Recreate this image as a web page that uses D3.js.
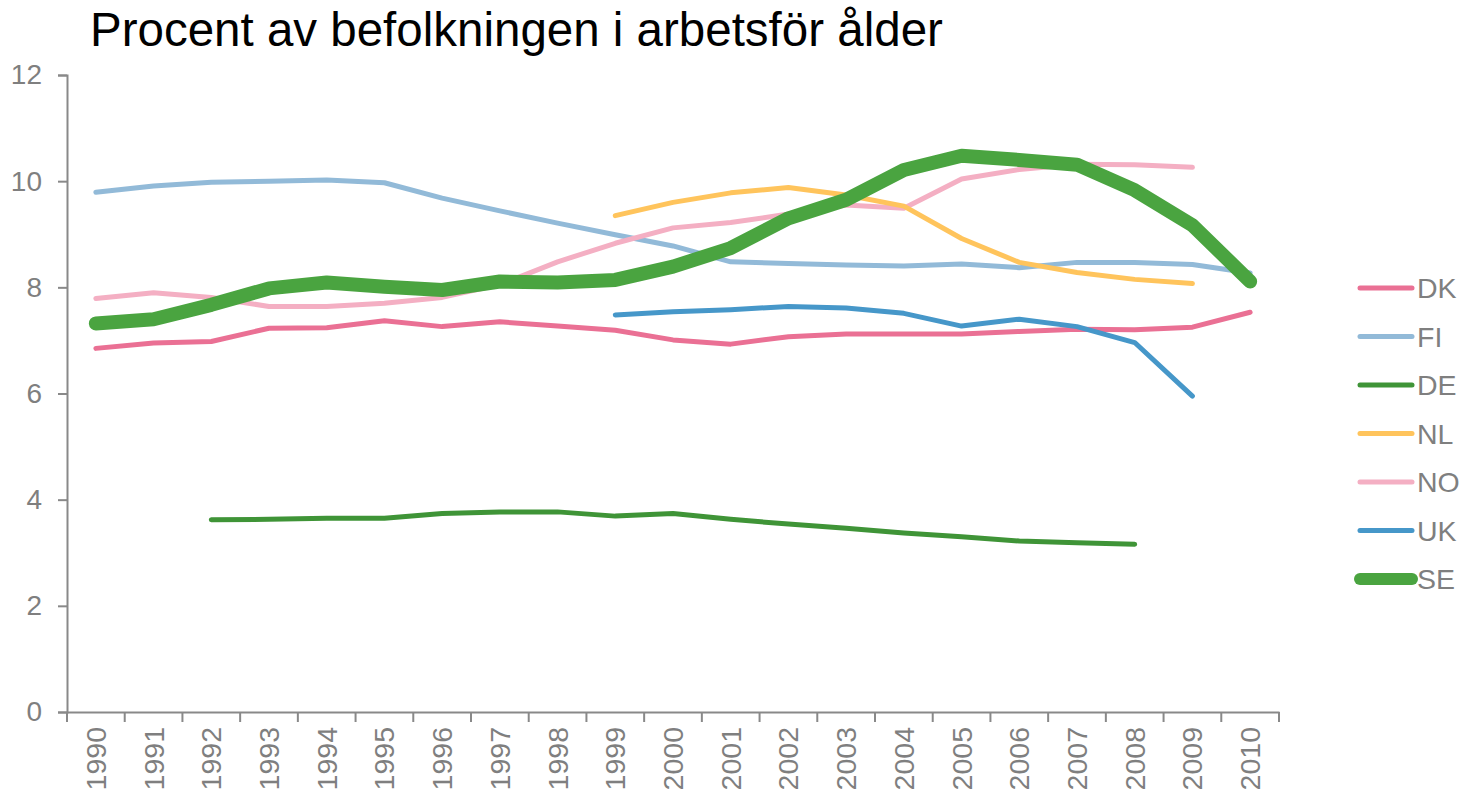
<!DOCTYPE html>
<html>
<head>
<meta charset="utf-8">
<script src="https://cdn.jsdelivr.net/npm/d3@7"></script>
<style>
  html, body { margin: 0; padding: 0; background: #fff; }
  svg { display: block; font-family: "Liberation Sans", Arial, sans-serif; }
</style>
</head>
<body>
<svg id="chart" width="1464" height="796"></svg>
<script>
const title = "Procent av befolkningen i arbetsför ålder";
const years = ["1990","1991","1992","1993","1994","1995","1996","1997","1998","1999","2000",
               "2001","2002","2003","2004","2005","2006","2007","2008","2009","2010"];
const yTicks = [0, 2, 4, 6, 8, 10, 12];

const DK = [6.85, 6.95, 6.98, 7.23, 7.24, 7.37, 7.26, 7.35, 7.27, 7.19, 7.01, 6.93, 7.07, 7.12, 7.12, 7.12, 7.17, 7.21, 7.20, 7.25, 7.53];
const FI = [9.79, 9.91, 9.98, 10.00, 10.02, 9.97, 9.68, 9.44, 9.21, 8.99, 8.78, 8.48, 8.45, 8.42, 8.40, 8.44, 8.37, 8.47, 8.47, 8.43, 8.27];
const DE = [null, null, 3.62, 3.63, 3.65, 3.65, 3.74, 3.77, 3.77, 3.69, 3.74, 3.63, 3.54, 3.46, 3.37, 3.30, 3.22, 3.19, 3.16, null, null];
const NL = [null, null, null, null, null, null, null, null, null, 9.35, 9.60, 9.78, 9.88, 9.74, 9.53, 8.92, 8.47, 8.28, 8.15, 8.07, null];
const NO = [7.79, 7.90, 7.81, 7.64, 7.64, 7.70, 7.81, 8.05, 8.48, 8.83, 9.12, 9.22, 9.38, 9.55, 9.49, 10.04, 10.22, 10.32, 10.31, 10.26, null];
const UK = [null, null, null, null, null, null, null, null, null, 7.48, 7.54, 7.58, 7.64, 7.61, 7.51, 7.27, 7.40, 7.26, 6.96, 5.95, null];
const SE = [7.32, 7.40, 7.67, 7.98, 8.09, 8.01, 7.95, 8.11, 8.09, 8.14, 8.39, 8.74, 9.30, 9.65, 10.21, 10.48, 10.40, 10.31, 9.83, 9.17, 8.11];

const seriesNames = ["DK", "FI", "DE", "NL", "NO", "UK", "SE"];
const seriesValues = {DK, FI, DE, NL, NO, UK, SE};
const colors = {DK: "#ea7094", FI: "#92bad8", DE: "#3f9437", NL: "#ffc45c", NO: "#f4afc3", UK: "#4697c9", SE: "#4aa440"};
const widths = {DK: 5, FI: 5, DE: 5, NL: 5, NO: 5, UK: 5, SE: 14};
const drawOrder = ["DK", "FI", "DE", "NO", "NL", "UK", "SE"];

const svg = d3.select("#chart");
const axisColor = "#898989";
const textColor = "#7f7f7f";

const x = d3.scaleBand().domain(years).range([67, 1279]).padding(0);
const y = d3.scaleLinear().domain([0, 12]).range([712, 75]);

// title
svg.append("text")
  .attr("x", 90).attr("y", 46)
  .attr("font-size", 47.5)
  .attr("fill", "#000")
  .text(title);

// y axis
const yAxis = svg.append("g").attr("transform", "translate(67,0)")
  .call(d3.axisLeft(y).tickValues(yTicks).tickSize(9).tickPadding(16).tickFormat(d3.format("d")));
yAxis.select(".domain").attr("stroke", axisColor).attr("stroke-width", 2);
yAxis.selectAll(".tick line").attr("stroke", axisColor).attr("stroke-width", 2);
yAxis.selectAll(".tick text").attr("fill", textColor).attr("font-size", 28)
  .attr("font-family", "Liberation Sans, Arial, sans-serif");

// x axis
const xAxis = svg.append("g").attr("transform", "translate(0,712)")
  .call(d3.axisBottom(x).tickSize(0).tickPadding(0));
xAxis.select(".domain").attr("stroke", axisColor).attr("stroke-width", 2);
xAxis.selectAll(".tick text")
  .attr("fill", textColor).attr("font-size", 28.5)
  .attr("font-family", "Liberation Sans, Arial, sans-serif")
  .attr("text-anchor", "end")
  .attr("transform", "rotate(-90)")
  .attr("x", -15).attr("y", 0).attr("dy", "0.35em");
// tick marks at band boundaries
const boundaries = years.map(d => x(d)).concat([x(years[years.length - 1]) + x.bandwidth()]);
xAxis.selectAll(".bnd").data(boundaries).enter().append("line")
  .attr("x1", d => d).attr("x2", d => d)
  .attr("y1", 0).attr("y2", 10)
  .attr("stroke", axisColor).attr("stroke-width", 2);

// lines
const line = d3.line()
  .defined(d => d.v !== null)
  .x(d => x(d.year) + x.bandwidth() / 2)
  .y(d => y(d.v));

drawOrder.forEach(name => {
  const data = years.map((yr, i) => ({year: yr, v: seriesValues[name][i]}));
  svg.append("path")
    .datum(data)
    .attr("fill", "none")
    .attr("stroke", colors[name])
    .attr("stroke-width", widths[name])
    .attr("stroke-linecap", "round")
    .attr("stroke-linejoin", "round")
    .attr("d", line);
});

// legend
const legend = svg.append("g");
seriesNames.forEach((name, i) => {
  const ly = 288 + i * 48.5;
  legend.append("line")
    .attr("x1", 1360).attr("x2", 1412)
    .attr("y1", ly).attr("y2", ly)
    .attr("stroke", colors[name])
    .attr("stroke-width", name === "SE" ? 12 : 5)
    .attr("stroke-linecap", "round");
  legend.append("text")
    .attr("x", 1417).attr("y", ly).attr("dy", "0.36em")
    .attr("font-size", 28.5).attr("fill", textColor)
    .text(name);
});
</script>
</body>
</html>
